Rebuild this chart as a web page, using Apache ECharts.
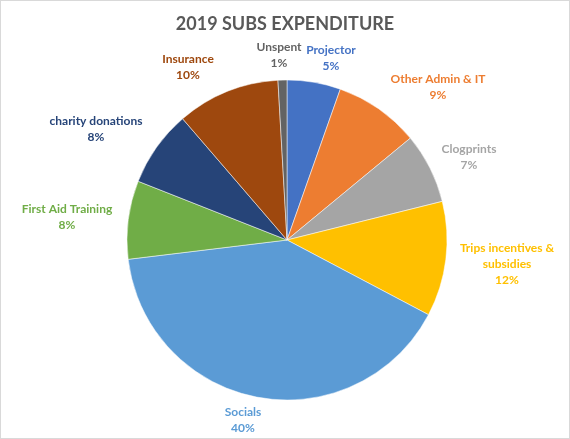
<!DOCTYPE html>
<html>
<head>
    <meta charset="utf-8">
    <title>2019 SUBS EXPENDITURE</title>
    <script src="https://cdn.jsdelivr.net/npm/echarts@6/dist/echarts.min.js"></script>
    <style>
        html, body { margin: 0; padding: 0; background: #fff; }
        #chart { width: 568px; height: 437px; border: 1px solid #d9d9d9; }
    </style>
</head>
<body>
<div id="chart"></div>
<script>
    // 分类（从12点方向顺时针）
    var categories = ['Projector', 'Other Admin & IT', 'Clogprints', 'Trips incentives &\nsubsidies',
        'Socials', 'First Aid Training', 'charity donations', 'Insurance', 'Unspent'];
    // 各项占比
    var values = [5.4, 8.6, 7.1, 11.6, 40.3, 7.9, 7.7, 10.4, 0.9];
    // 颜色
    var colors = ['#4472C4', '#ED7D31', '#A5A5A5', '#FFC000', '#5B9BD5',
        '#70AD47', '#264478', '#9E480E', '#636363'];

    // 标签位置（Excel 里数据标签的摆放位置）
    var labelPos = [[330, 57], [437, 86], [468, 156], [506, 263], [242, 419],
        [66, 216], [95, 128], [187, 66], [278, 54]];

    var myChart = echarts.init(document.getElementById('chart'));

    var option = {
        title: {
            text: '2019 SUBS EXPENDITURE',
            left: 'center',
            top: 9,
            textStyle: { fontFamily: 'Lato', fontSize: 18, fontWeight: 'bold', color: '#595959' }
        },
        series: [{
            type: 'pie',
            center: [286, 239],
            radius: 160,
            startAngle: 90,
            clockwise: true,
            avoidLabelOverlap: false,
            data: categories.map(function (c, i) {
                return { name: c, value: values[i], itemStyle: { color: colors[i] },
                    label: { color: colors[i] } };
            }),
            itemStyle: { borderColor: '#fff', borderWidth: 0.5 },
            label: {
                position: 'outside',
                fontFamily: 'Lato',
                fontSize: 12,
                fontWeight: 'bold',
                lineHeight: 16,
                align: 'center',
                formatter: function (p) {
                    return p.name + '\n' + Math.round(p.value) + '%';
                }
            },
            labelLine: { show: false },
            labelLayout: function (params) {
                var pos = labelPos[params.dataIndex];
                return { x: pos[0], y: pos[1], align: 'center', verticalAlign: 'middle' };
            },
            emphasis: { disabled: true }
        }]
    };

    myChart.setOption(option);
</script>
</body>
</html>
